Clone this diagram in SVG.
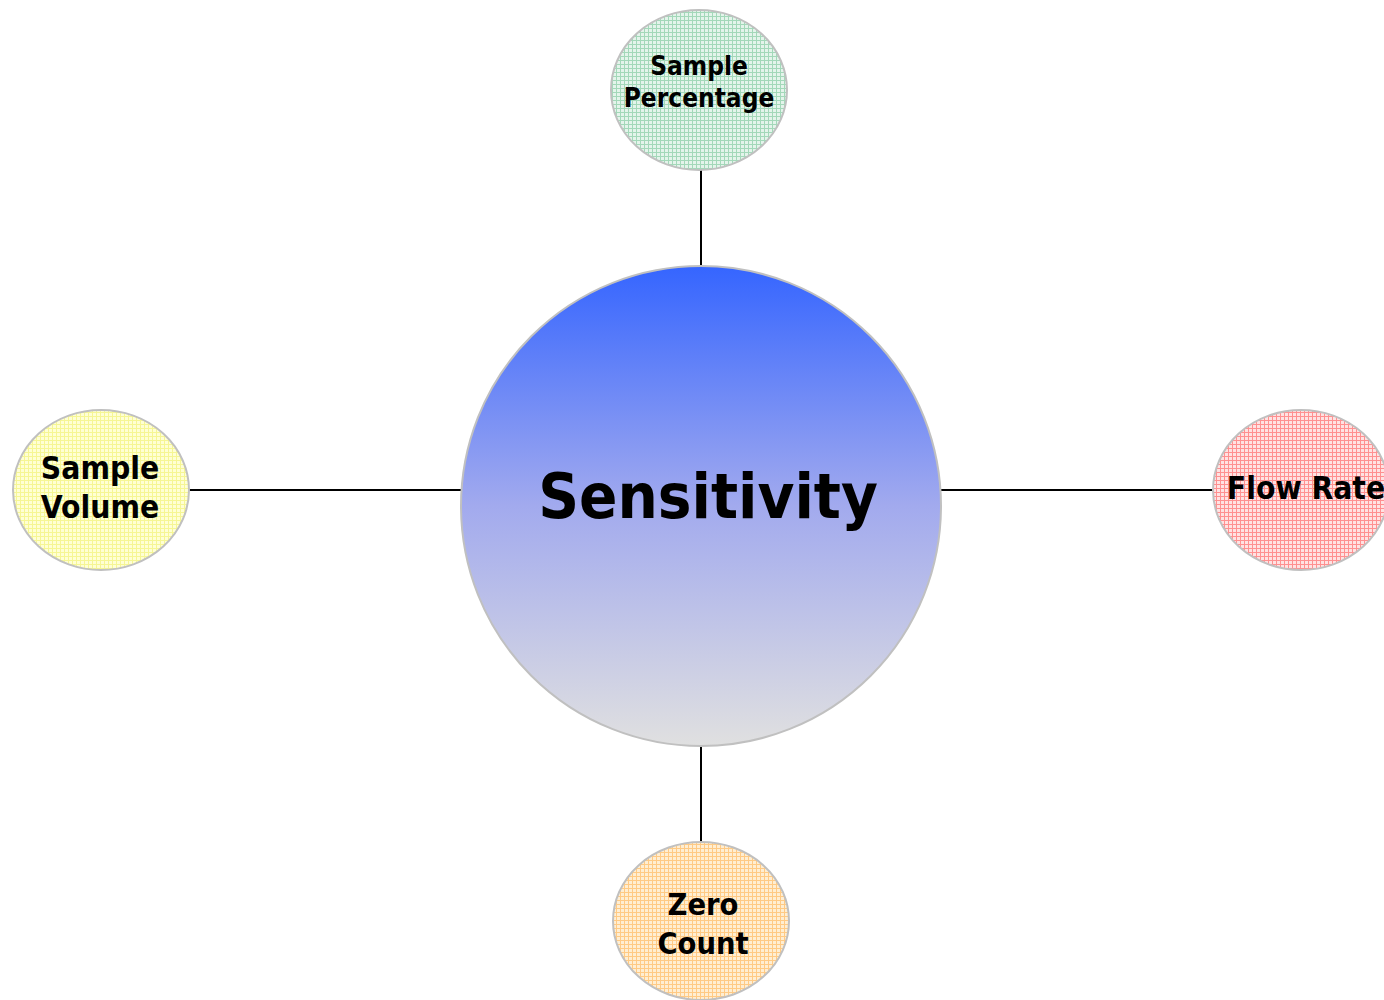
<svg xmlns="http://www.w3.org/2000/svg" width="1384" height="1000" viewBox="0 0 1384 1000">
<defs>
<linearGradient id="gMain" x1="0" y1="0" x2="0" y2="1">
<stop offset="0" stop-color="#3565ff"/>
<stop offset="0.5" stop-color="#a2aaee"/>
<stop offset="1" stop-color="#e0e0e0"/>
</linearGradient>
<pattern id="pGreen" width="4" height="4" patternUnits="userSpaceOnUse">
<rect width="4" height="4" fill="#e4f4eb"/>
<path d="M0 0.5H4M0.5 0V4" stroke="#a3d8b9" stroke-width="1"/>
</pattern>
<pattern id="pRed" width="4" height="4" patternUnits="userSpaceOnUse">
<rect width="4" height="4" fill="#ffe2e2"/>
<path d="M0 0.5H4M0.5 0V4" stroke="#ff9090" stroke-width="1"/>
</pattern>
<pattern id="pYellow" width="4" height="4" patternUnits="userSpaceOnUse">
<rect width="4" height="4" fill="#ffffd4"/>
<path d="M0 0.5H4M0.5 0V4" stroke="#f6f694" stroke-width="1"/>
</pattern>
<pattern id="pOrange" width="4" height="4" patternUnits="userSpaceOnUse">
<rect width="4" height="4" fill="#ffeed2"/>
<path d="M0 0.5H4M0.5 0V4" stroke="#ffca84" stroke-width="1"/>
</pattern>
</defs>
<style>
.node{stroke:#c0c0c0;stroke-width:2}
.lbl{font-family:"DejaVu Sans Condensed","DejaVu Sans",sans-serif;font-weight:bold;fill:#000;text-anchor:middle}
.conn{stroke:#000;stroke-width:2;fill:none}
</style>
<rect width="1384" height="1000" fill="#fff"/>
<g id="connectors">
<line class="conn" x1="701" y1="170" x2="701" y2="266"/>
<line class="conn" x1="701" y1="746" x2="701" y2="842"/>
<line class="conn" x1="189" y1="490" x2="461" y2="490"/>
<line class="conn" x1="941" y1="490" x2="1213" y2="490"/>
</g>
<g id="sensitivity">
<circle class="node" cx="701" cy="506" r="240" fill="url(#gMain)"/>
<text class="lbl" x="708" y="518" font-size="63">Sensitivity</text>
</g>
<g id="sample-percentage">
<ellipse class="node" cx="699" cy="90" rx="88" ry="80" fill="url(#pGreen)"/>
<text class="lbl" x="699" y="75" font-size="26">Sample</text>
<text class="lbl" x="699" y="107" font-size="26">Percentage</text>
</g>
<g id="sample-volume">
<ellipse class="node" cx="101" cy="490" rx="88" ry="80" fill="url(#pYellow)"/>
<text class="lbl" x="100" y="479" font-size="31.5">Sample</text>
<text class="lbl" x="100" y="518" font-size="31.5">Volume</text>
</g>
<g id="flow-rate">
<ellipse class="node" cx="1301" cy="490" rx="88" ry="80" fill="url(#pRed)"/>
<text class="lbl" x="1306" y="499" font-size="31.5">Flow Rate</text>
</g>
<g id="zero-count">
<ellipse class="node" cx="701" cy="921" rx="88" ry="79" fill="url(#pOrange)"/>
<text class="lbl" x="703" y="915" font-size="30.5">Zero</text>
<text class="lbl" x="703" y="954" font-size="30.5">Count</text>
</g>
</svg>
